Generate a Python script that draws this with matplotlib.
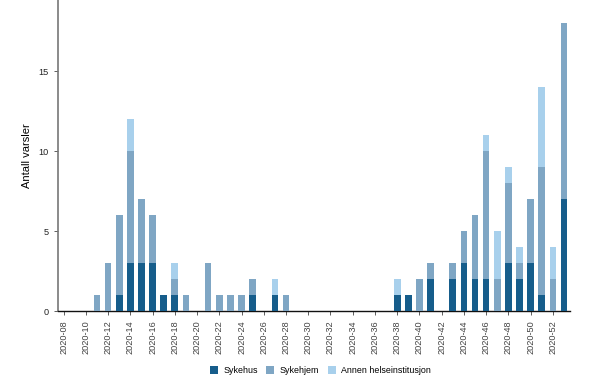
import numpy as np
import matplotlib
matplotlib.use('Agg')
import matplotlib.pyplot as plt

plt.rcParams['font.family'] = ['Liberation Sans', 'DejaVu Sans']

# --- Data: weekly counts per institution type ---
weeks = [f'2020-{w:02d}' for w in range(8, 54)]
sykehus = [0, 0, 0, 0, 0, 1, 3, 3, 3, 1, 1, 0, 0, 0, 0, 0, 0, 1, 0, 1, 0,
           0, 0, 0, 0, 0, 0, 0, 0, 0, 1, 1, 0, 2, 0, 2, 3, 2, 2, 0, 3, 2,
           3, 1, 0, 7]
sykehjem = [0, 0, 0, 1, 3, 5, 7, 4, 3, 0, 1, 1, 0, 3, 1, 1, 1, 1, 0, 0, 1,
            0, 0, 0, 0, 0, 0, 0, 0, 0, 0, 0, 2, 1, 0, 1, 2, 4, 8, 2, 5, 1,
            4, 8, 2, 11]
annen = [0, 0, 0, 0, 0, 0, 2, 0, 0, 0, 1, 0, 0, 0, 0, 0, 0, 0, 0, 1, 0,
         0, 0, 0, 0, 0, 0, 0, 0, 0, 1, 0, 0, 0, 0, 0, 0, 0, 1, 3, 1, 1,
         0, 5, 2, 0]

colors = ['#165d8b', '#7fa6c4', '#a8d0ec']

fig = plt.figure(figsize=(6.14, 3.84), dpi=100)
ax = fig.add_axes([0.0945, 0.19, 0.834, 0.81])

x = np.arange(len(weeks))
s1 = np.array(sykehus)
s2 = np.array(sykehjem)
s3 = np.array(annen)
w = 0.6
ax.bar(x, s1, w, color=colors[0], label='Sykehus', zorder=3)
ax.bar(x, s2, w, bottom=s1, color=colors[1], label='Sykehjem', zorder=3)
ax.bar(x, s3, w, bottom=s1 + s2, color=colors[2],
       label='Annen helseinstitusjon', zorder=3)

ax.set_xlim(-0.5, len(weeks) - 0.45)
ax.set_ylim(0, 19.45)
ax.set_yticks([0, 5, 10, 15])
ax.set_xticks(x[::2])
ax.set_xticklabels(weeks[::2], rotation=90, fontsize=6.6, color='#222222')
ax.tick_params(axis='y', labelsize=6.6, colors='#444444', length=3, width=0.6)
ax.tick_params(axis='x', length=3, width=0.6, colors='#444444')
for lab in ax.get_yticklabels():
    lab.set_color('#222222')

ax.set_ylabel('Antall varsler', fontsize=8, labelpad=5)

ax.spines['top'].set_visible(False)
ax.spines['right'].set_visible(False)
ax.spines['left'].set_color('#777777')
ax.spines['left'].set_linewidth(1.2)
ax.spines['bottom'].set_color('#111111')
ax.spines['bottom'].set_linewidth(1.0)

fig.legend(loc='center', bbox_to_anchor=(0.522, 0.035), ncol=3, frameon=False,
           fontsize=6.4, handlelength=0.9, handleheight=0.9, handletextpad=0.6,
           columnspacing=1.0)

fig.savefig('out.png', dpi=100, facecolor='white')
plt.close(fig)
